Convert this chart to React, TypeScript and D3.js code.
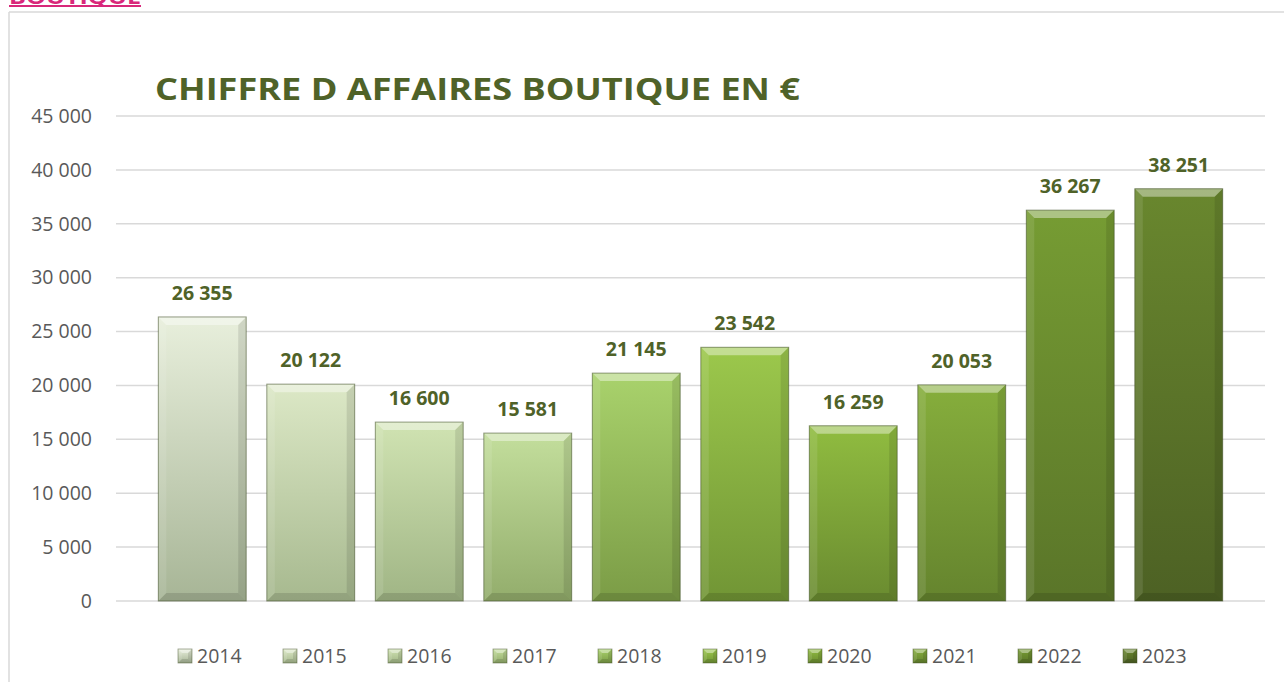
import * as d3 from 'd3'

const years = ['2014', '2015', '2016', '2017', '2018', '2019', '2020', '2021', '2022', '2023']
const revenue = [26355, 20122, 16600, 15581, 21145, 23542, 16259, 20053, 36267, 38251]
const yTicks = [0, 5000, 10000, 15000, 20000, 25000, 30000, 35000, 40000, 45000]

// top / bottom colour of each bar gradient
const topColors = ['#e8efdc', '#dce8c6', '#d0e3b2', '#c3de9c', '#a9d26c', '#9cc84c', '#90bc40', '#86ae3c', '#769c33', '#69872e']
const bottomColors = ['#a7b596', '#a7b98f', '#a0b585', '#93ad6c', '#7b9c46', '#719535', '#6a8b30', '#65842e', '#5a7529', '#4d6124']

const W = 1284
const H = 682
const FONT = "'Open Sans', 'DejaVu Sans', sans-serif"
const TITLE_COLOR = '#4f6228'
const AXIS_COLOR = '#595959'
const GRID_COLOR = '#d9d9d9'

const locale = d3.formatLocale({ decimal: ',', thousands: ' ', grouping: [3], currency: ['', ' €'] })
const fmt = locale.format(',d')

const Bevel = ({ x, y, w, h, b, id, stroke = 1 }: { x: number; y: number; w: number; h: number; b: number; id: string; stroke?: number }) => {
  const x1 = x + w
  const y1 = y + h
  const bb = Math.min(b, w / 2, h / 2)
  return (
    <g>
      <rect x={x} y={y} width={w} height={h} fill={`url(#${id})`} />
      <polygon points={`${x},${y} ${x1},${y} ${x1 - bb},${y + bb} ${x + bb},${y + bb}`} fill="#fff" opacity={0.4} />
      <polygon points={`${x},${y} ${x + bb},${y + bb} ${x + bb},${y1 - bb} ${x},${y1}`} fill="#fff" opacity={0.1} />
      <polygon points={`${x1},${y} ${x1 - bb},${y + bb} ${x1 - bb},${y1 - bb} ${x1},${y1}`} fill="#000" opacity={0.1} />
      <polygon points={`${x},${y1} ${x + bb},${y1 - bb} ${x1 - bb},${y1 - bb} ${x1},${y1}`} fill="#000" opacity={0.12} />
      <rect x={x} y={y} width={w} height={h} fill="none" stroke="#3d4a22" strokeOpacity={0.55} strokeWidth={stroke} />
    </g>
  )
}

export default function App() {
  const plotLeft = 116
  const plotRight = 1265
  const y = d3.scaleLinear().domain([0, 45000]).range([601, 116])
  const x = d3.scaleBand<string>().domain(years).range([plotLeft, plotRight]).paddingInner(0.19).paddingOuter(0.39)
  const legendX = d3.scalePoint<string>().domain(years).range([178, 1123])

  return (
    <svg
      width={W}
      height={H}
      style={{ position: 'absolute', left: 0, top: 0, background: '#fff' }}
      fontFamily={FONT}
    >
      <defs>
        {years.map((yr, i) => (
          <linearGradient key={yr} id={`g${yr}`} x1="0" y1="0" x2="0" y2="1">
            <stop offset="0%" stopColor={topColors[i]} />
            <stop offset="100%" stopColor={bottomColors[i]} />
          </linearGradient>
        ))}
      </defs>

      {/* heading cut at top of page, as in the source */}
      <text x={9} y={4} fill="#d8287a" fontWeight="bold" fontSize={20} textLength={132} lengthAdjust="spacingAndGlyphs">
        BOUTIQUE
      </text>
      <line x1={9} x2={141} y1={6} y2={6} stroke="#d8287a" strokeWidth={2} />

      {/* chart frame */}
      <line x1={9} x2={W} y1={12} y2={12} stroke={GRID_COLOR} strokeWidth={1.5} />
      <line x1={9} x2={9} y1={12} y2={H} stroke={GRID_COLOR} strokeWidth={1.5} />

      <text x={155} y={100} fill={TITLE_COLOR} fontWeight="bold" fontSize={31} textLength={645} lengthAdjust="spacingAndGlyphs">
        CHIFFRE D AFFAIRES BOUTIQUE EN €
      </text>

      {yTicks.map((t) => (
        <g key={t}>
          <line x1={plotLeft} x2={plotRight} y1={y(t)} y2={y(t)} stroke={GRID_COLOR} strokeWidth={1.5} />
          <text x={92} y={y(t)} dy="0.35em" textAnchor="end" fill={AXIS_COLOR} fontSize={19.5}>
            {fmt(t)}
          </text>
        </g>
      ))}

      {years.map((yr, i) => {
        const bx = x(yr) as number
        const by = y(revenue[i])
        return (
          <g key={yr}>
            <Bevel x={bx} y={by} w={x.bandwidth()} h={y(0) - by} b={8} id={`g${yr}`} />
            <text x={bx + x.bandwidth() / 2} y={by - 17} textAnchor="middle" fill={TITLE_COLOR} fontWeight="bold" fontSize={19.5}>
              {fmt(revenue[i])}
            </text>
          </g>
        )
      })}

      {years.map((yr) => {
        const lx = legendX(yr) as number
        return (
          <g key={yr}>
            <Bevel x={lx} y={649} w={14} h={14} b={4} id={`g${yr}`} stroke={0.8} />
            <text x={lx + 19} y={656} dy="0.35em" fill={AXIS_COLOR} fontSize={19.5}>
              {yr}
            </text>
          </g>
        )
      })}
    </svg>
  )
}
